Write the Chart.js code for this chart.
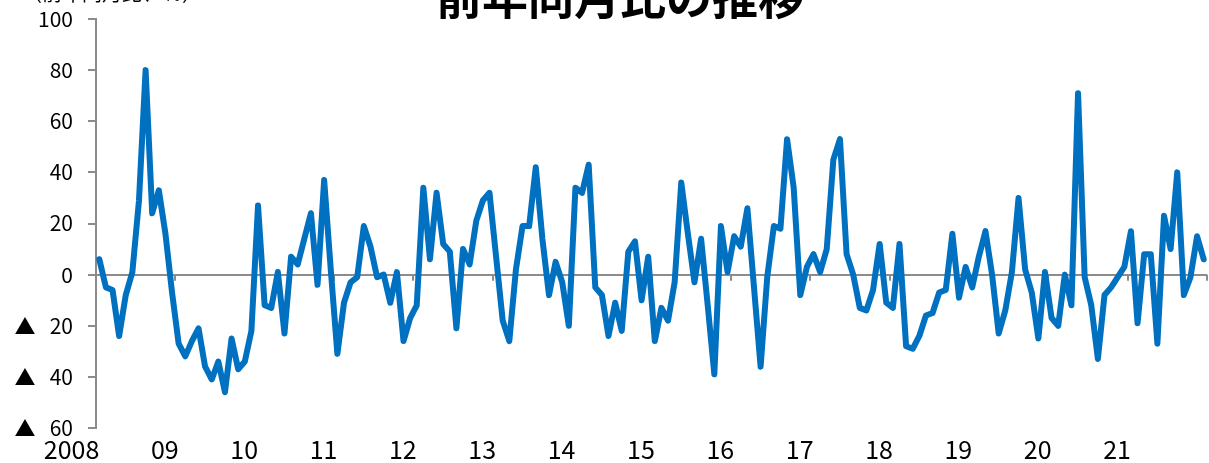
<!DOCTYPE html>
<html>
<head>
<meta charset="utf-8">
<script src="https://cdn.jsdelivr.net/npm/chart.js@4.4.1/dist/chart.umd.min.js"></script>
<style>
html,body{margin:0;padding:0;background:#fff;overflow:hidden;width:1209px;height:463px;}
#wrap{position:relative;width:1209px;height:463px;overflow:hidden;}
canvas{position:absolute;left:0;top:0;}
#title{position:absolute;left:0;width:1240px;top:-29px;text-align:center;font-family:"Noto Sans CJK JP";font-weight:bold;font-size:46px;line-height:46px;color:#000;white-space:nowrap;}
#unit{position:absolute;left:22px;top:-17px;font-family:"Noto Sans CJK JP";font-size:20px;line-height:20px;color:#000;white-space:nowrap;}
</style>
</head>
<body>
<div id="wrap">
  <canvas id="c" width="1209" height="463"></canvas>
  <div id="title">前年同月比の推移</div>
  <div id="unit">（前年同月比、％）</div>
</div>
<script>
// Year tick labels (one per January)
const yearTickLabels = ['2008','09','10','11','12','13','14','15','16','17','18','19','20','21'];
const years = [2008,2009,2010,2011,2012,2013,2014,2015,2016,2017,2018,2019,2020,2021];

// Monthly year-over-year change (%), Jan..Dec of each year
const v2008 = [6, -5, -6, -24, -8, 1, 29, 80, 24, 33, 16, -7];
const v2009 = [-27, -32, -26, -21, -36, -41, -34, -46, -25, -37, -34, -22];
const v2010 = [27, -12, -13, 1, -23, 7, 4, 14, 24, -4, 37, 2];
const v2011 = [-31, -11, -3, -1, 19, 11, -1, 0, -11, 1, -26, -17];
const v2012 = [-12, 34, 6, 32, 12, 9, -21, 10, 4, 21, 29, 32];
const v2013 = [7, -18, -26, 2, 19, 19, 42, 14, -8, 5, -3, -20];
const v2014 = [34, 32, 43, -5, -8, -24, -11, -22, 9, 13, -10, 7];
const v2015 = [-26, -13, -18, -3, 36, 16, -3, 14, -12, -39, 19, 1];
const v2016 = [15, 11, 26, -5, -36, -1, 19, 18, 53, 34, -8, 3];
const v2017 = [8, 1, 10, 45, 53, 8, 0, -13, -14, -6, 12, -11];
const v2018 = [-13, 12, -28, -29, -24, -16, -15, -7, -6, 16, -9, 3];
const v2019 = [-5, 7, 17, 0, -23, -14, 1, 30, 2, -7, -25, 1];
const v2020 = [-17, -20, 0, -12, 71, -1, -12, -33, -8, -5, -1, 3];
const v2021 = [17, -19, 8, 8, -27, 23, 10, 40, -8, -1, 15, 6];

const yTickStep = 20;
const yMin = -60, yMax = 100;

const yearly = [v2008,v2009,v2010,v2011,v2012,v2013,v2014,v2015,v2016,v2017,v2018,v2019,v2020,v2021];
const categories = [];
const values = [];
years.forEach((yr, k) => {
  yearly[k].forEach((v, m) => { categories.push(yr + '/' + (m + 1)); values.push(v); });
});

const FONT = '"Noto Sans CJK JP", "Noto Sans", sans-serif';
const AXIS_GRAY = '#8c8c8c';

// Small tick marks on the zero line at year boundaries
const zeroTicks = {
  id: 'zeroTicks',
  beforeDatasetsDraw(chart) {
    const xs = chart.scales.x, ys = chart.scales.y, ctx = chart.ctx;
    const y0 = ys.getPixelForValue(0);
    ctx.save();
    ctx.strokeStyle = AXIS_GRAY;
    ctx.lineWidth = 2;
    for (let k = 1; k <= yearTickLabels.length; k++) {
      const px = Math.round(xs.getPixelForValue(12 * k - 0.5));
      ctx.beginPath();
      ctx.moveTo(px, y0);
      ctx.lineTo(px, y0 + 6);
      ctx.stroke();
    }
    ctx.restore();
  }
};

new Chart(document.getElementById('c'), {
  type: 'line',
  data: {
    labels: categories,
    datasets: [{
      data: values,
      borderColor: '#0070C0',
      borderWidth: 6,
      pointRadius: 0,
      tension: 0,
      fill: false,
      borderJoinStyle: 'round',
      borderCapStyle: 'round',
      clip: false
    }]
  },
  options: {
    responsive: false,
    animation: false,
    devicePixelRatio: 1,
    layout: { padding: { top: 19, right: 2, left: 0, bottom: 0 } },
    plugins: { legend: { display: false }, title: { display: false }, tooltip: { enabled: false } },
    scales: {
      x: {
        offset: true,
        grid: { display: false, drawTicks: false },
        border: { display: false },
        ticks: {
          autoSkip: false, maxRotation: 0, minRotation: 0, align: 'end', padding: 6,
          color: '#000', font: { family: FONT, size: 25 },
          callback: (v, i) => (i % 12 === 0 ? yearTickLabels[i / 12] : '')
        },
        afterFit(s) { s.height = 35; s.paddingLeft = 0; s.paddingRight = 0; }
      },
      y: {
        min: yMin, max: yMax,
        ticks: {
          stepSize: yTickStep, padding: 15, color: '#000', font: { family: FONT, size: 21 },
          callback: v => (v < 0 ? '▲   ' + (-v) : String(v))
        },
        grid: {
          color: c => (c.tick && c.tick.value === 0 ? AXIS_GRAY : 'rgba(0,0,0,0)'),
          lineWidth: 2, tickLength: 8, tickColor: AXIS_GRAY, tickWidth: 2, drawTicks: true
        },
        border: { display: true, color: AXIS_GRAY, width: 2 },
        afterFit(s) { s.width = 96; s.paddingTop = 0; s.paddingBottom = 0; }
      }
    }
  },
  plugins: [zeroTicks]
});
</script>
</body>
</html>
